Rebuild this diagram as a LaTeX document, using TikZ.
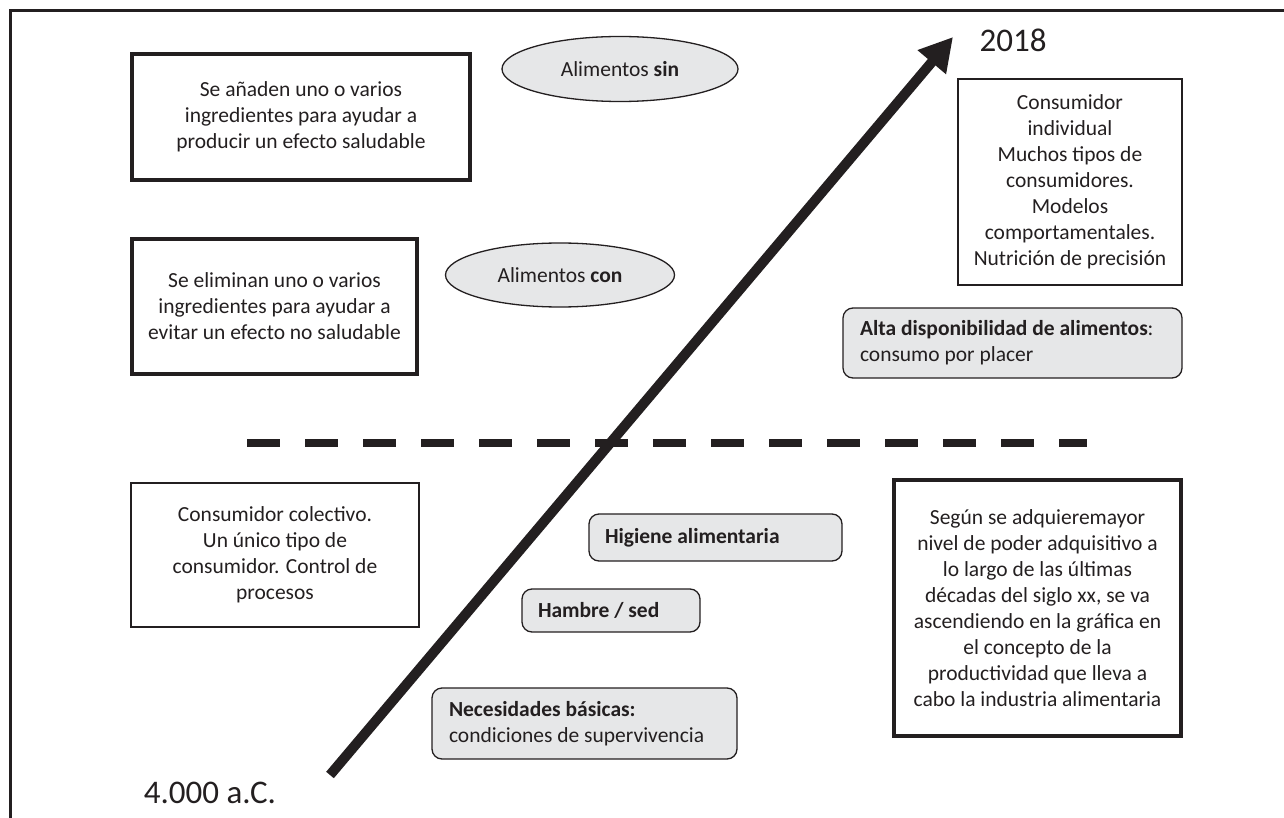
\documentclass[tikz,border=0pt]{standalone}
\usepackage{fontspec}
\setmainfont{Carlito}
\usetikzlibrary{arrows.meta,shapes.geometric}
\definecolor{ink}{HTML}{231F20}
\definecolor{lightfill}{HTML}{E6E7E8}
\begin{document}
\begin{tikzpicture}[x=1pt,y=-1pt,
  txt/.style={font=\fontsize{21.5}{26}\selectfont, text=ink},
  thickbox/.style={draw=ink, line width=3.8pt, align=center, txt, inner sep=0pt},
  thinbox/.style={draw=ink, line width=1.6pt, align=center, txt, inner sep=0pt},
  pill/.style={draw=ink, line width=1.3pt, fill=lightfill, ellipse, txt, inner sep=0pt},
  tag/.style={draw=ink, line width=1.3pt, fill=lightfill, rounded corners=10pt, txt,
              align=flush left, inner xsep=16pt, inner ysep=0pt},
  yearlbl/.style={font=\fontsize{33}{38}\selectfont, text=ink, inner sep=0pt},
  arrowline/.style={line width=10pt, draw=ink, -{Triangle[length=33pt,width=35pt]}},
  divider/.style={line width=8pt, draw=ink, dash pattern=on 33pt off 25pt}
]
\useasboundingbox (0,0) rectangle (1284,818);
% frame
\draw[line width=3pt, draw=ink] (10.5,818) -- (10.5,11) -- (1284,11);

% upper left boxes
\node[thickbox, minimum width=338pt, minimum height=126pt] (add) at (301,117)
  {Se añaden uno o varios\\ingredientes para ayudar a\\producir un efecto saludable};
\node[thickbox, minimum width=285pt, minimum height=135pt] (rem) at (274.5,306.5)
  {Se eliminan uno o varios\\ingredientes para ayudar a\\evitar un efecto no saludable};

% ellipses
\node[pill, minimum width=236pt, minimum height=65pt] (sin) at (620,69) {Alimentos \textbf{sin}};
\node[pill, minimum width=229pt, minimum height=64pt] (con) at (560,275) {Alimentos \textbf{con}};

% upper right
\node[thinbox, minimum width=224pt, minimum height=206pt] (indiv) at (1070,182)
  {Consumidor\\individual\\Muchos tipos de\\consumidores.\\Modelos\\comportamentales.\\Nutrición de precisión};
\node[tag, text width=305pt, minimum height=70pt, inner xsep=17pt] (alta) at (1012.5,343)
  {\textbf{Alta disponibilidad de alimentos}:\\consumo por placer};

% lower left
\node[thinbox, minimum width=288pt, minimum height=144pt] (colec) at (275,555)
  {Consumidor colectivo.\\Un único tipo de\\consumidor. Control de\\procesos};

% lower middle tags
\node[tag, text width=221pt, minimum height=47pt] (hig) at (715.5,537.5) {\textbf{Higiene alimentaria}};
\node[tag, text width=146pt, minimum height=43pt] (ham) at (611,610.5) {\textbf{Hambre / sed}};
\node[tag, text width=271pt, minimum height=71pt, inner xsep=17pt] (nec) at (584.5,723.5)
  {\textbf{Necesidades básicas:}\\condiciones de supervivencia};

% lower right
\node[thickbox, minimum width=287pt, minimum height=256pt] (seg) at (1037.5,608)
  {Según se adquieremayor\\nivel de poder adquisitivo a\\lo largo de las últimas\\décadas del siglo \textsc{xx}, se va\\ascendiendo en la gráfica en\\el concepto de la\\productividad que lleva a\\cabo la industria alimentaria};

% years
\node[yearlbl] (y2018) at (1013,40) {2018};
\node[yearlbl] (y4000) at (210,793) {4.000 a.C.};

% dashed divider
\coordinate (d0) at (247,443);
\coordinate (d1) at (1087,443);
\draw[divider] (d0) -- (d1);

% time arrow
\coordinate (t0) at (330,775);
\coordinate (t1) at (953,37);
\draw[arrowline] (t0) -- (t1);
\end{tikzpicture}
\end{document}
